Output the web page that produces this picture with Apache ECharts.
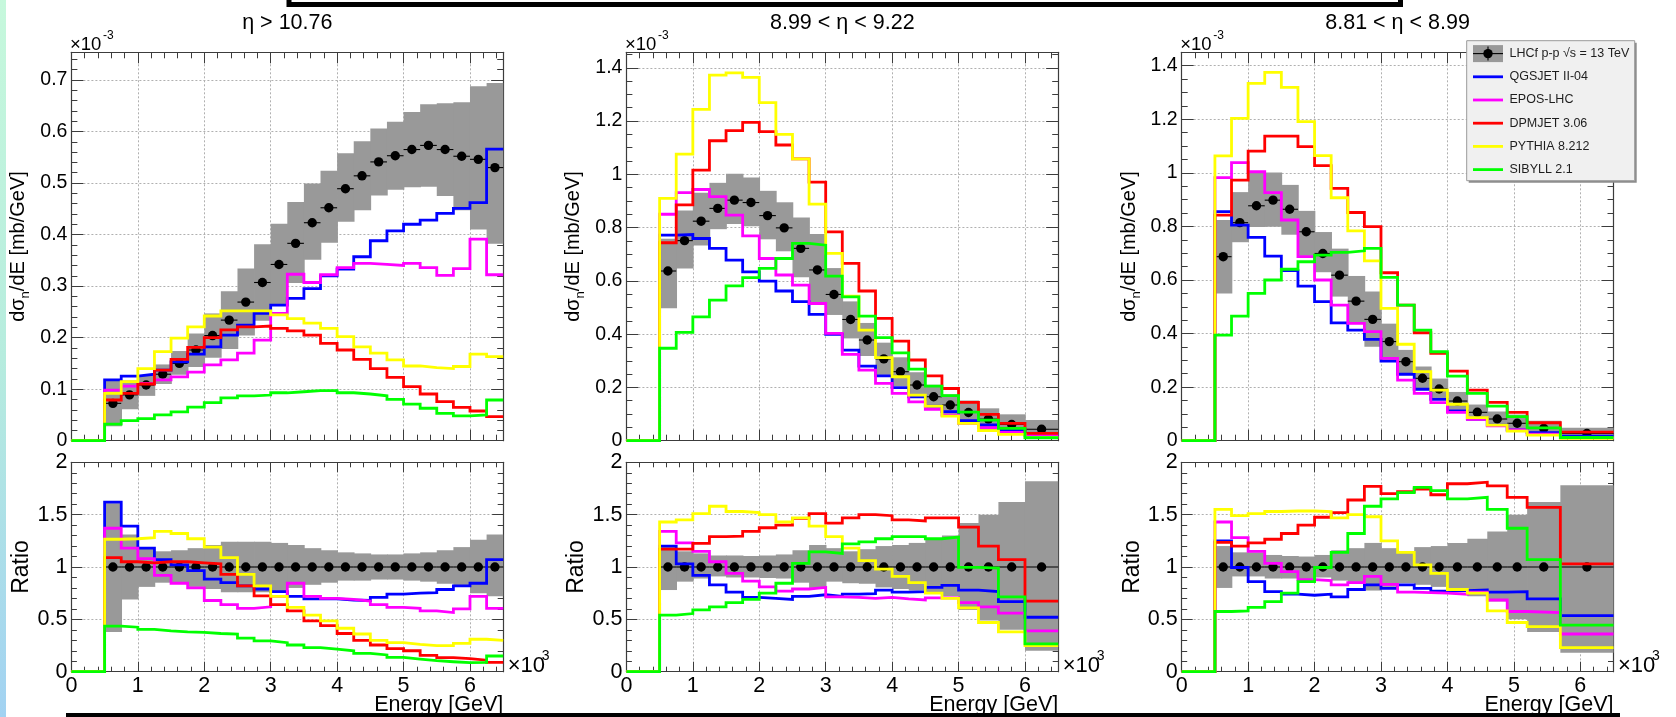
<!DOCTYPE html>
<html>
<head>
<meta charset="utf-8">
<title>LHCf neutron energy spectra, p-p 13 TeV</title>
<script src="https://cdn.jsdelivr.net/npm/echarts@6/dist/echarts.min.js"></script>
<style>
  html, body { margin: 0; padding: 0; background: #ffffff; }
  #chart { width: 1676px; height: 717px; }
</style>
</head>
<body>
<div id="chart"></div>
<script>
// ---------------------------------------------------------------------------
// Data: dσ_n/dE in units of 1e-3 mb/GeV, energies in GeV.
// ---------------------------------------------------------------------------
const titles = ['η > 10.76', '8.99 < η < 9.22', '8.81 < η < 8.99'];
const legendLabels = ['LHCf p-p √s = 13 TeV', 'QGSJET II-04', 'EPOS-LHC', 'DPMJET 3.06', 'PYTHIA 8.212', 'SIBYLL 2.1'];
const xTickLabels = ['0', '1', '2', '3', '4', '5', '6'];

// ---- η > 10.76 ----
const edgesA = [500, 750, 1000, 1250, 1500, 1750, 2000, 2250, 2500, 2750, 3000, 3250, 3500, 3750, 4000, 4250, 4500, 4750, 5000, 5250, 5500, 5750, 6000, 6250, 6500];
const lhcfA = [0.0725, 0.089, 0.108, 0.129, 0.150, 0.176, 0.204, 0.234, 0.269, 0.307, 0.342, 0.383, 0.423, 0.452, 0.489, 0.514, 0.541, 0.553, 0.565, 0.573, 0.565, 0.552, 0.546, 0.530];
const lhcfLoA = [0.028, 0.061, 0.087, 0.110, 0.128, 0.143, 0.161, 0.178, 0.204, 0.233, 0.263, 0.306, 0.351, 0.384, 0.425, 0.447, 0.476, 0.487, 0.492, 0.493, 0.475, 0.447, 0.410, 0.382];
const lhcfHiA = [0.117, 0.117, 0.127, 0.148, 0.174, 0.208, 0.247, 0.290, 0.334, 0.381, 0.421, 0.463, 0.499, 0.524, 0.558, 0.581, 0.606, 0.619, 0.638, 0.653, 0.655, 0.657, 0.688, 0.694];
const qgsA = [0.118, 0.1255, 0.129, 0.137, 0.153, 0.168, 0.182, 0.205, 0.224, 0.247, 0.263, 0.276, 0.295, 0.320, 0.333, 0.357, 0.388, 0.407, 0.420, 0.428, 0.441, 0.451, 0.462, 0.566];
const eposA = [0.098, 0.106, 0.111, 0.118, 0.124, 0.133, 0.147, 0.157, 0.170, 0.195, 0.247, 0.323, 0.307, 0.322, 0.336, 0.344, 0.342, 0.340, 0.344, 0.336, 0.321, 0.334, 0.391, 0.322];
const dpmA = [0.079, 0.092, 0.110, 0.137, 0.158, 0.181, 0.200, 0.215, 0.221, 0.2225, 0.218, 0.213, 0.205, 0.189, 0.176, 0.158, 0.140, 0.123, 0.105, 0.0906, 0.0757, 0.0647, 0.0576, 0.0466];
const pytA = [0.092, 0.1145, 0.140, 0.173, 0.199, 0.221, 0.242, 0.252, 0.252, 0.252, 0.244, 0.237, 0.228, 0.218, 0.202, 0.182, 0.170, 0.157, 0.145, 0.142, 0.140, 0.144, 0.168, 0.163];
const sibA = [0.032, 0.039, 0.043, 0.050, 0.056, 0.065, 0.074, 0.083, 0.087, 0.0886, 0.093, 0.095, 0.097, 0.097, 0.093, 0.0906, 0.087, 0.080, 0.071, 0.063, 0.053, 0.048, 0.050, 0.079];
const rLhcfA = [1, 1, 1, 1, 1, 1, 1, 1, 1, 1, 1, 1, 1, 1, 1, 1, 1, 1, 1, 1, 1, 1, 1, 1];
const rLoA = [0.38, 0.69, 0.81, 0.85, 0.85, 0.81, 0.79, 0.76, 0.76, 0.76, 0.77, 0.80, 0.83, 0.85, 0.87, 0.87, 0.88, 0.88, 0.87, 0.86, 0.84, 0.81, 0.75, 0.72];
const rHiA = [1.61, 1.31, 1.18, 1.15, 1.16, 1.18, 1.21, 1.24, 1.24, 1.24, 1.23, 1.21, 1.18, 1.16, 1.14, 1.13, 1.12, 1.12, 1.13, 1.14, 1.16, 1.19, 1.26, 1.31];
const rQgsA = [1.62, 1.39, 1.18, 1.07, 1.02, 0.965, 0.885, 0.85, 0.82, 0.79, 0.765, 0.72, 0.695, 0.695, 0.685, 0.68, 0.71, 0.74, 0.75, 0.755, 0.785, 0.82, 0.845, 1.07];
const rEposA = [1.37, 1.18, 1.08, 0.92, 0.845, 0.80, 0.68, 0.64, 0.605, 0.62, 0.72, 0.845, 0.72, 0.70, 0.69, 0.675, 0.64, 0.615, 0.605, 0.58, 0.565, 0.60, 0.72, 0.605];
const rDpmA = [1.09, 1.05, 1.04, 1.05, 1.05, 1.04, 1.03, 0.93, 0.82, 0.725, 0.64, 0.58, 0.485, 0.44, 0.365, 0.30, 0.255, 0.22, 0.20, 0.155, 0.135, 0.125, 0.11, 0.09];
const rPytA = [1.265, 1.27, 1.28, 1.34, 1.32, 1.27, 1.19, 1.09, 0.93, 0.82, 0.72, 0.615, 0.54, 0.485, 0.415, 0.36, 0.30, 0.277, 0.26, 0.25, 0.25, 0.27, 0.31, 0.30];
const rSibA = [0.435, 0.425, 0.405, 0.39, 0.38, 0.375, 0.365, 0.36, 0.32, 0.295, 0.277, 0.255, 0.23, 0.215, 0.20, 0.175, 0.16, 0.137, 0.12, 0.105, 0.095, 0.086, 0.09, 0.15];

// ---- 8.99 < η < 9.22 ----
const edgesB = [500, 750, 1000, 1250, 1500, 1750, 2000, 2250, 2500, 2750, 3000, 3250, 3500, 3750, 4000, 4250, 4500, 4750, 5000, 5300, 5600, 6000, 6500];
const lhcfB = [0.637, 0.751, 0.824, 0.872, 0.903, 0.894, 0.845, 0.799, 0.722, 0.641, 0.549, 0.455, 0.378, 0.307, 0.259, 0.209, 0.165, 0.134, 0.106, 0.081, 0.061, 0.043];
const lhcfLoB = [0.497, 0.646, 0.733, 0.794, 0.813, 0.805, 0.756, 0.711, 0.614, 0.513, 0.472, 0.384, 0.318, 0.247, 0.205, 0.162, 0.124, 0.0965, 0.0625, 0.040, 0.0244, 0.0086];
const lhcfHiB = [0.758, 0.864, 0.931, 0.968, 1.002, 0.988, 0.938, 0.895, 0.838, 0.776, 0.648, 0.523, 0.442, 0.368, 0.313, 0.257, 0.210, 0.174, 0.151, 0.1215, 0.099, 0.078];
const qgsB = [0.772, 0.774, 0.759, 0.722, 0.678, 0.634, 0.599, 0.562, 0.522, 0.474, 0.399, 0.340, 0.280, 0.243, 0.199, 0.165, 0.130, 0.109, 0.075, 0.059, 0.040, 0.021];
const eposB = [0.850, 0.931, 0.943, 0.916, 0.847, 0.769, 0.684, 0.622, 0.584, 0.515, 0.403, 0.324, 0.265, 0.215, 0.178, 0.146, 0.118, 0.096, 0.065, 0.049, 0.031, 0.021];
const dpmB = [0.743, 0.885, 1.016, 1.126, 1.164, 1.195, 1.160, 1.110, 1.058, 0.971, 0.784, 0.666, 0.562, 0.459, 0.374, 0.303, 0.243, 0.196, 0.144, 0.099, 0.065, 0.0275];
const pytB = [0.910, 1.076, 1.244, 1.372, 1.381, 1.364, 1.269, 1.150, 1.058, 0.888, 0.703, 0.543, 0.415, 0.3115, 0.240, 0.171, 0.130, 0.0926, 0.065, 0.0375, 0.024, 0.0125];
const sibB = [0.347, 0.407, 0.465, 0.528, 0.581, 0.612, 0.647, 0.684, 0.741, 0.734, 0.618, 0.540, 0.468, 0.387, 0.330, 0.269, 0.205, 0.169, 0.107, 0.0776, 0.046, 0.011];
const rLhcfB = [1, 1, 1, 1, 1, 1, 1, 1, 1, 1, 1, 1, 1, 1, 1, 1, 1, 1, 1, 1, 1, 1];
const rLoB = [0.78, 0.86, 0.89, 0.91, 0.90, 0.90, 0.895, 0.89, 0.85, 0.80, 0.86, 0.845, 0.84, 0.805, 0.79, 0.775, 0.75, 0.72, 0.59, 0.49, 0.40, 0.20];
const rHiB = [1.19, 1.15, 1.13, 1.11, 1.11, 1.105, 1.11, 1.12, 1.16, 1.21, 1.18, 1.15, 1.17, 1.20, 1.21, 1.23, 1.27, 1.30, 1.42, 1.50, 1.62, 1.82];
const rQgsB = [1.20, 1.03, 0.92, 0.83, 0.76, 0.71, 0.70, 0.69, 0.72, 0.735, 0.72, 0.74, 0.745, 0.78, 0.76, 0.765, 0.805, 0.825, 0.78, 0.765, 0.67, 0.52];
const rEposB = [1.34, 1.23, 1.15, 1.05, 0.94, 0.865, 0.81, 0.77, 0.79, 0.805, 0.715, 0.71, 0.70, 0.71, 0.695, 0.685, 0.705, 0.705, 0.66, 0.62, 0.56, 0.39];
const rDpmB = [1.17, 1.17, 1.225, 1.29, 1.295, 1.34, 1.375, 1.40, 1.465, 1.51, 1.42, 1.47, 1.50, 1.49, 1.45, 1.44, 1.47, 1.47, 1.38, 1.20, 1.07, 0.675];
const rPytB = [1.43, 1.45, 1.51, 1.58, 1.53, 1.52, 1.50, 1.43, 1.47, 1.39, 1.29, 1.18, 1.06, 0.98, 0.91, 0.85, 0.75, 0.70, 0.61, 0.47, 0.38, 0.25];
const rSibB = [0.54, 0.555, 0.59, 0.62, 0.66, 0.69, 0.75, 0.845, 1.035, 1.145, 1.13, 1.22, 1.24, 1.27, 1.29, 1.29, 1.27, 1.285, 0.997, 0.99, 0.715, 0.265];

// ---- 8.81 < η < 8.99 ----
const edgesC = [500, 750, 1000, 1250, 1500, 1750, 2000, 2250, 2500, 2750, 3000, 3250, 3500, 3750, 4000, 4300, 4600, 4900, 5200, 5700, 6500];
const lhcfC = [0.687, 0.814, 0.877, 0.898, 0.864, 0.780, 0.699, 0.618, 0.521, 0.453, 0.370, 0.295, 0.233, 0.193, 0.148, 0.106, 0.081, 0.065, 0.046, 0.027];
const lhcfLoC = [0.550, 0.741, 0.798, 0.799, 0.769, 0.690, 0.629, 0.538, 0.440, 0.351, 0.300, 0.249, 0.193, 0.156, 0.115, 0.076, 0.054, 0.0325, 0.0175, 0.005];
const lhcfHiC = [0.824, 0.928, 1.000, 1.001, 0.955, 0.858, 0.779, 0.717, 0.615, 0.557, 0.437, 0.339, 0.277, 0.232, 0.182, 0.135, 0.109, 0.0975, 0.0745, 0.048];
const qgsC = [0.855, 0.805, 0.759, 0.689, 0.635, 0.577, 0.519, 0.440, 0.413, 0.378, 0.297, 0.248, 0.192, 0.154, 0.111, 0.081, 0.058, 0.040, 0.030, 0.017];
const eposC = [0.982, 1.038, 1.004, 0.926, 0.824, 0.687, 0.600, 0.506, 0.438, 0.407, 0.307, 0.226, 0.177, 0.142, 0.106, 0.080, 0.055, 0.040, 0.024, 0.012];
const dpmC = [0.842, 0.973, 1.081, 1.137, 1.137, 1.098, 1.027, 0.942, 0.852, 0.799, 0.627, 0.506, 0.403, 0.326, 0.260, 0.189, 0.143, 0.106, 0.067, 0.032];
const pytC = [1.063, 1.203, 1.334, 1.375, 1.319, 1.191, 1.064, 0.907, 0.783, 0.671, 0.494, 0.360, 0.258, 0.189, 0.136, 0.086, 0.058, 0.036, 0.021, 0.009];
const sibC = [0.394, 0.465, 0.550, 0.600, 0.640, 0.668, 0.693, 0.703, 0.709, 0.718, 0.610, 0.506, 0.413, 0.332, 0.241, 0.177, 0.129, 0.090, 0.048, 0.012];
const rLhcfC = [1, 1, 1, 1, 1, 1, 1, 1, 1, 1, 1, 1, 1, 1, 1, 1, 1, 1, 1, 1];
const rLoC = [0.80, 0.91, 0.91, 0.89, 0.89, 0.885, 0.90, 0.87, 0.845, 0.775, 0.81, 0.845, 0.83, 0.81, 0.78, 0.72, 0.67, 0.50, 0.38, 0.18];
const rHiC = [1.20, 1.14, 1.14, 1.115, 1.105, 1.10, 1.115, 1.16, 1.18, 1.23, 1.18, 1.15, 1.19, 1.20, 1.23, 1.27, 1.34, 1.50, 1.62, 1.78];
const rQgsC = [1.25, 0.995, 0.86, 0.765, 0.74, 0.73, 0.74, 0.715, 0.785, 0.83, 0.795, 0.83, 0.795, 0.77, 0.775, 0.78, 0.76, 0.765, 0.695, 0.535];
const rEposC = [1.43, 1.28, 1.15, 1.035, 0.955, 0.88, 0.87, 0.83, 0.85, 0.91, 0.835, 0.76, 0.755, 0.75, 0.74, 0.76, 0.685, 0.575, 0.565, 0.36];
const rDpmC = [1.235, 1.20, 1.23, 1.265, 1.32, 1.40, 1.475, 1.52, 1.64, 1.77, 1.70, 1.72, 1.745, 1.69, 1.795, 1.81, 1.775, 1.665, 1.57, 1.03];
const rPytC = [1.55, 1.49, 1.51, 1.53, 1.535, 1.535, 1.53, 1.47, 1.50, 1.48, 1.25, 1.14, 1.02, 0.94, 0.785, 0.75, 0.58, 0.47, 0.43, 0.23];
const rSibC = [0.575, 0.58, 0.615, 0.67, 0.75, 0.86, 0.995, 1.14, 1.32, 1.58, 1.65, 1.71, 1.76, 1.73, 1.65, 1.665, 1.55, 1.37, 1.07, 0.445];

// ---------------------------------------------------------------------------
// Styling and layout
// ---------------------------------------------------------------------------
const FONT = '"Liberation Sans", Arial, Helvetica, sans-serif';
const FRAME = '#3c3c3c';
const GRID_LINE = '#b0b0b0';
const BAND = '#999999';
const MODEL_COLORS = ['#0000ff', '#ff00ff', '#ff0000', '#ffff00', '#00ff00'];
const LINE_W = 2.8;

const PANEL_LEFT = [71.4, 626.4, 1181.7];
const PANEL_W = 431.8;
const UPPER = { top: 52.3, height: 388.4 };
const LOWER = { top: 462.3, height: 209.4 };
const X_MAX = 6500;

const panels = [
  { title: titles[0], edges: edgesA, data: lhcfA, lo: lhcfLoA, hi: lhcfHiA,
    models: [qgsA, eposA, dpmA, pytA, sibA],
    rData: rLhcfA, rLo: rLoA, rHi: rHiA, rModels: [rQgsA, rEposA, rDpmA, rPytA, rSibA],
    yMax: 0.7537, yMajor: 0.1, yMinor: 0.02 },
  { title: titles[1], edges: edgesB, data: lhcfB, lo: lhcfLoB, hi: lhcfHiB,
    models: [qgsB, eposB, dpmB, pytB, sibB],
    rData: rLhcfB, rLo: rLoB, rHi: rHiB, rModels: [rQgsB, rEposB, rDpmB, rPytB, rSibB],
    yMax: 1.458, yMajor: 0.2, yMinor: 0.05 },
  { title: titles[2], edges: edgesC, data: lhcfC, lo: lhcfLoC, hi: lhcfHiC,
    models: [qgsC, eposC, dpmC, pytC, sibC],
    rData: rLhcfC, rLo: rLoC, rHi: rHiC, rModels: [rQgsC, rEposC, rDpmC, rPytC, rSibC],
    yMax: 1.45, yMajor: 0.2, yMinor: 0.05 }
];

const grids = [], xAxes = [], yAxes = [], series = [], graphic = [];

function isMultiple(v, step) {
  const k = v / step;
  return Math.abs(k - Math.round(k)) < 1e-6;
}
function fmt(v) {
  return String(Number(v.toFixed(3)));
}

// One frame: 4 x axes (bottom/top, major/minor) and 4 y axes (left/right, major/minor).
function addFrame(box, opt) {
  const gi = grids.length;
  grids.push({ left: box.left, top: box.top, width: box.width, height: box.height, show: false });

  const tickStyle = { color: FRAME, width: 1 };
  const frameLine = { show: true, onZero: false, lineStyle: { color: FRAME, width: 1.2 } };
  const hidden = { show: false, onZero: false };

  const xMain = xAxes.length;
  const xCommon = { type: 'value', gridIndex: gi, min: 0, max: X_MAX };
  xAxes.push(Object.assign({}, xCommon, {
    position: 'bottom', interval: 1000, axisLine: frameLine,
    axisTick: { show: true, inside: true, length: opt.xTickMaj, lineStyle: tickStyle },
    axisLabel: { show: opt.xLabels, fontFamily: FONT, fontSize: opt.xLabelSize, color: '#000', margin: 3,
      showMaxLabel: false,
      formatter: v => (isMultiple(v, 1000) ? xTickLabels[Math.round(v / 1000)] : '') },
    splitLine: { show: true, showMinLine: false, showMaxLine: false, lineStyle: { color: GRID_LINE, type: [2, 2], width: 1 } }
  }));
  xAxes.push(Object.assign({}, xCommon, {
    position: 'bottom', interval: 200, axisLine: hidden,
    axisTick: { show: true, inside: true, length: opt.xTickMin, lineStyle: tickStyle },
    axisLabel: { show: false }, splitLine: { show: false }
  }));
  xAxes.push(Object.assign({}, xCommon, {
    position: 'top', interval: 1000, axisLine: frameLine,
    axisTick: { show: true, inside: true, length: opt.xTickMaj, lineStyle: tickStyle },
    axisLabel: { show: false }, splitLine: { show: false }
  }));
  xAxes.push(Object.assign({}, xCommon, {
    position: 'top', interval: 200, axisLine: hidden,
    axisTick: { show: true, inside: true, length: opt.xTickMin, lineStyle: tickStyle },
    axisLabel: { show: false }, splitLine: { show: false }
  }));

  const yMain = yAxes.length;
  const yCommon = { type: 'value', gridIndex: gi, min: 0, max: opt.yMax };
  yAxes.push(Object.assign({}, yCommon, {
    position: 'left', interval: opt.yMajor, axisLine: frameLine,
    axisTick: { show: true, inside: true, length: opt.yTickMaj, lineStyle: tickStyle },
    axisLabel: { show: true, fontFamily: FONT, fontSize: opt.yLabelSize, color: '#000', margin: 4,
      formatter: v => (isMultiple(v, opt.yMajor) ? fmt(v) : '') },
    splitLine: { show: true, showMinLine: false, showMaxLine: false, lineStyle: { color: GRID_LINE, type: [2, 2], width: 1 } },
    name: opt.yName, nameLocation: 'middle', nameRotate: 90, nameGap: opt.nameGap,
    nameTextStyle: opt.nameStyle
  }));
  yAxes.push(Object.assign({}, yCommon, {
    position: 'left', interval: opt.yMinor, axisLine: hidden,
    axisTick: { show: true, inside: true, length: opt.yTickMin, lineStyle: tickStyle },
    axisLabel: { show: false }, splitLine: { show: false }
  }));
  yAxes.push(Object.assign({}, yCommon, {
    position: 'right', interval: opt.yMajor, axisLine: frameLine,
    axisTick: { show: true, inside: true, length: opt.yTickMaj, lineStyle: tickStyle },
    axisLabel: { show: false }, splitLine: { show: false }
  }));
  yAxes.push(Object.assign({}, yCommon, {
    position: 'right', interval: opt.yMinor, axisLine: hidden,
    axisTick: { show: true, inside: true, length: opt.yTickMin, lineStyle: tickStyle },
    axisLabel: { show: false }, splitLine: { show: false }
  }));
  return { xi: xMain, yi: yMain };
}

// Grey uncertainty boxes, one per bin.
function bandSeries(ax, edges, lo, hi) {
  const rows = lo.map((l, i) => [edges[i], edges[i + 1], l, hi[i]]);
  const last = rows.length - 1;
  return {
    type: 'custom', xAxisIndex: ax.xi, yAxisIndex: ax.yi, data: rows, silent: true, z: 2,
    encode: { x: [0, 1], y: [2, 3] },
    renderItem: (params, api) => {
      const a = api.coord([api.value(0), api.value(3)]);
      const b = api.coord([api.value(1), api.value(2)]);
      const pad = params.dataIndex < last ? 0.8 : 0;
      return { type: 'rect', shape: { x: a[0], y: a[1], width: b[0] - a[0] + pad, height: b[1] - a[1] },
        style: { fill: BAND } };
    }
  };
}

// Measured points: marker at bin centre with a horizontal bar across the bin.
function pointSeries(ax, edges, vals) {
  const rows = vals.map((v, i) => [edges[i], edges[i + 1], v]);
  return {
    type: 'custom', xAxisIndex: ax.xi, yAxisIndex: ax.yi, data: rows, silent: true, z: 3,
    encode: { x: [0, 1], y: 2 },
    renderItem: (params, api) => {
      const a = api.coord([api.value(0), api.value(2)]);
      const b = api.coord([api.value(1), api.value(2)]);
      return { type: 'group', children: [
        { type: 'line', shape: { x1: a[0], y1: a[1], x2: b[0], y2: b[1] }, style: { stroke: '#000', lineWidth: 1.1 } },
        { type: 'circle', shape: { cx: (a[0] + b[0]) / 2, cy: a[1], r: 4.7 }, style: { fill: '#000' } }
      ] };
    }
  };
}

// Model prediction drawn as a histogram outline (zero below the first edge).
function histSeries(ax, edges, vals, color) {
  const pts = [[0, 0], [edges[0], 0]];
  vals.forEach((v, i) => { pts.push([edges[i], v]); pts.push([edges[i + 1], v]); });
  return {
    type: 'line', xAxisIndex: ax.xi, yAxisIndex: ax.yi, data: pts, silent: true, z: 4,
    showSymbol: false, symbol: 'none', clip: true,
    lineStyle: { color: color, width: LINE_W, join: 'miter' }, itemStyle: { color: color }
  };
}

const upperName = '{m|dσ}{sub|n}{m|/dE [mb/GeV]}';
const upperNameStyle = {
  fontFamily: FONT, fontSize: 20, color: '#000',
  rich: {
    m: { fontFamily: FONT, fontSize: 20, color: '#000', lineHeight: 27, verticalAlign: 'middle' },
    sub: { fontFamily: FONT, fontSize: 13, color: '#000', lineHeight: 27, verticalAlign: 'bottom' }
  }
};

function label(x, y, text, size, align, extra) {
  return Object.assign({ type: 'text', x: x, y: y, z: 50,
    style: { text: text, fill: '#000', font: size + 'px ' + FONT, align: align, verticalAlign: 'middle' } }, extra || {});
}

panels.forEach((p, k) => {
  const left = PANEL_LEFT[k];
  const up = addFrame({ left: left, top: UPPER.top, width: PANEL_W, height: UPPER.height }, {
    yMax: p.yMax, yMajor: p.yMajor, yMinor: p.yMinor, xLabels: false, xLabelSize: 21, yLabelSize: 19.5,
    xTickMaj: 11, xTickMin: 6, yTickMaj: 12, yTickMin: 6,
    yName: upperName, nameGap: 39, nameStyle: upperNameStyle
  });
  series.push(bandSeries(up, p.edges, p.lo, p.hi));
  series.push(pointSeries(up, p.edges, p.data));
  p.models.forEach((m, j) => series.push(histSeries(up, p.edges, m, MODEL_COLORS[j])));

  const low = addFrame({ left: left, top: LOWER.top, width: PANEL_W, height: LOWER.height }, {
    yMax: 2, yMajor: 0.5, yMinor: 0.1, xLabels: true, xLabelSize: 21.5, yLabelSize: 21.5,
    xTickMaj: 10, xTickMin: 5, yTickMaj: 11, yTickMin: 5.5,
    yName: 'Ratio', nameGap: 37, nameStyle: { fontFamily: FONT, fontSize: 23, color: '#000' }
  });
  series.push(bandSeries(low, p.edges, p.rLo, p.rHi));
  series.push(pointSeries(low, p.edges, p.rData));
  p.rModels.forEach((m, j) => series.push(histSeries(low, p.edges, m, MODEL_COLORS[j])));

  const right = left + PANEL_W;
  graphic.push(label(left + PANEL_W / 2, 23, p.title, 21.5, 'center'));
  // ×10^-3 multiplier of the upper y axis
  graphic.push(label(left - 1.5, 44.5, '×10', 18.5, 'left'));
  graphic.push(label(left + 31.5, 35.5, '-3', 12, 'left'));
  // ×10^3 multiplier of the energy axis
  graphic.push(label(right + 4.5, 665.5, '×10', 22, 'left'));
  graphic.push(label(right + 38.5, 656.5, '3', 14, 'left'));
  // energy axis title
  graphic.push(label(right, 705.5, 'Energy [GeV]', 21.5, 'right'));
});

// Legend box (upper right panel), drawn above the frame
const LEG = { x: 1466.7, y: 40.7, w: 168, h: 140, row0: 53.6, rowStep: 23.2, iconX: 1473, iconW: 30, textX: 1509.5 };
const legendItems = [
  { type: 'rect', shape: { x: LEG.x + 2, y: LEG.y + 2, width: LEG.w, height: LEG.h }, style: { fill: '#8c8c8c' } },
  { type: 'rect', shape: { x: LEG.x, y: LEG.y, width: LEG.w, height: LEG.h }, style: { fill: '#f0f0f0', stroke: '#9a9a9a', lineWidth: 1 } },
  { type: 'rect', shape: { x: LEG.iconX, y: LEG.row0 - 8.5, width: LEG.iconW, height: 17 }, style: { fill: BAND } },
  { type: 'line', shape: { x1: LEG.iconX, y1: LEG.row0, x2: LEG.iconX + LEG.iconW, y2: LEG.row0 }, style: { stroke: '#000', lineWidth: 1.1 } },
  { type: 'line', shape: { x1: LEG.iconX + LEG.iconW / 2, y1: LEG.row0 - 7, x2: LEG.iconX + LEG.iconW / 2, y2: LEG.row0 + 7 }, style: { stroke: '#000', lineWidth: 1.1 } },
  { type: 'circle', shape: { cx: LEG.iconX + LEG.iconW / 2, cy: LEG.row0, r: 4.7 }, style: { fill: '#000' } }
];
MODEL_COLORS.forEach((c, j) => {
  const y = LEG.row0 + (j + 1) * LEG.rowStep;
  legendItems.push({ type: 'line', shape: { x1: LEG.iconX, y1: y, x2: LEG.iconX + LEG.iconW, y2: y }, style: { stroke: c, lineWidth: LINE_W } });
});
legendLabels.forEach((t, j) => {
  legendItems.push({ type: 'text', x: LEG.textX, y: LEG.row0 + j * LEG.rowStep,
    style: { text: t, fill: '#1e1e1e', font: '12.5px ' + FONT, align: 'left', verticalAlign: 'middle' } });
});
legendItems.forEach(el => { el.zlevel = 1; el.z = 10; graphic.push(el); });

// Page decorations: coloured strip at the left edge and the black frame lines
const decorations = [
  { type: 'rect', shape: { x: 0, y: 0, width: 6, height: 717 },
    style: { fill: new echarts.graphic.LinearGradient(0, 0, 0, 1, [
      { offset: 0, color: '#c6f8dc' }, { offset: 0.5, color: '#b6ecde' }, { offset: 1, color: '#a2d2f2' }]) } },
  { type: 'rect', shape: { x: 289, y: -20, width: 1111.5, height: 24.5 },
    style: { fill: 'none', stroke: '#000', lineWidth: 5 } },
  { type: 'rect', shape: { x: 68.5, y: 715.5, width: 1549, height: 30 },
    style: { fill: 'none', stroke: '#000', lineWidth: 5 } }
];
decorations.forEach(el => { el.zlevel = 1; el.z = 20; graphic.push(el); });

const chart = echarts.init(document.getElementById('chart'), null, { renderer: 'canvas' });
chart.setOption({
  animation: false,
  backgroundColor: '#ffffff',
  grid: grids,
  xAxis: xAxes,
  yAxis: yAxes,
  series: series,
  graphic: graphic
});
</script>
</body>
</html>
